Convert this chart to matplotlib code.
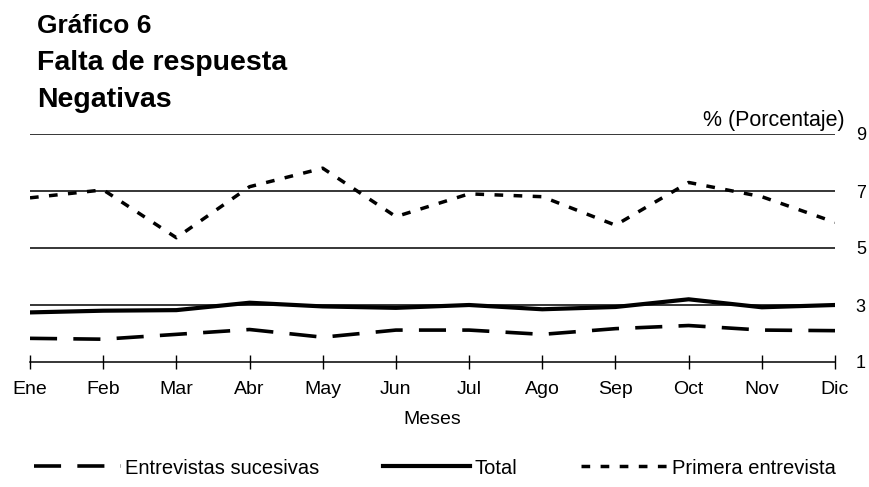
import matplotlib
matplotlib.use("Agg")
import matplotlib.pyplot as plt
from matplotlib.lines import Line2D

plt.rcParams['font.family'] = ['Liberation Sans', 'DejaVu Sans']

# Data
meses = ["Ene", "Feb", "Mar", "Abr", "May", "Jun", "Jul", "Ago", "Sep", "Oct", "Nov", "Dic"]
sucesivas = [1.83, 1.80, 1.97, 2.14, 1.87, 2.12, 2.12, 1.97, 2.17, 2.28, 2.12, 2.10]
total = [2.74, 2.80, 2.82, 3.08, 2.95, 2.90, 3.00, 2.85, 2.93, 3.20, 2.92, 3.00]
primera = [6.76, 7.04, 5.36, 7.15, 7.80, 6.10, 6.90, 6.80, 5.80, 7.30, 6.80, 5.90]
yticks = [1, 3, 5, 7, 9]

fig = plt.figure(figsize=(8.7, 4.87), dpi=100)
ax = fig.add_axes([30 / 870, 1 - 362 / 487, 805 / 870, 228 / 487])

x = list(range(len(meses)))

# Grid lines
for v in yticks[1:]:
    ax.axhline(v, color="black", lw=1.1, zorder=1)

suc_style = dict(color="black", lw=2.6, dashes=(7.5, 4.5))
tot_style = dict(color="black", lw=3.0)
pri_style = dict(color="black", lw=2.5, dashes=(2.5, 3.0))

ax.plot(x, sucesivas, zorder=3, **suc_style)
ax.plot(x, total, zorder=3, **tot_style)
ax.plot(x, primera, zorder=3, **pri_style)

ax.set_xlim(0, 11)
ax.set_ylim(1, 9)
ax.set_xticks(x)
ax.set_xticklabels(meses, fontsize=14)
ax.tick_params(axis="x", direction="inout", length=10, width=1, pad=9)
ax.set_xlabel("Meses", fontsize=14, labelpad=9)

ax.yaxis.tick_right()
ax.set_yticks(yticks)
ax.set_yticklabels([str(v) for v in yticks], fontsize=13)
ax.tick_params(axis="y", length=0, pad=15)

for s in ["top", "left", "right"]:
    ax.spines[s].set_visible(False)
ax.spines["bottom"].set_linewidth(1.1)

# Titles
fig.text(37 / 870, 1 - 33 / 487, "Gráfico 6", fontsize=19, fontweight="bold", va="baseline")
fig.text(37 / 870, 1 - 70 / 487, "Falta de respuesta", fontsize=20.5, fontweight="bold", va="baseline")
fig.text(37 / 870, 1 - 107 / 487, "Negativas", fontsize=20.5, fontweight="bold", va="baseline")
fig.text(845 / 870, 1 - 126 / 487, "% (Porcentaje)", fontsize=15.5, ha="right", va="baseline")

handles = [
    Line2D([], [], **suc_style),
    Line2D([], [], **tot_style),
    Line2D([], [], **pri_style),
]
fig.legend(handles, ["Entrevistas sucesivas", "Total", "Primera entrevista"],
           loc="center", bbox_to_anchor=(0.5, 1 - 468 / 487), ncol=3,
           frameon=False, fontsize=14.5, handlelength=4.3, handletextpad=0.2,
           columnspacing=3.2)

fig.savefig("out.png", dpi=100)
